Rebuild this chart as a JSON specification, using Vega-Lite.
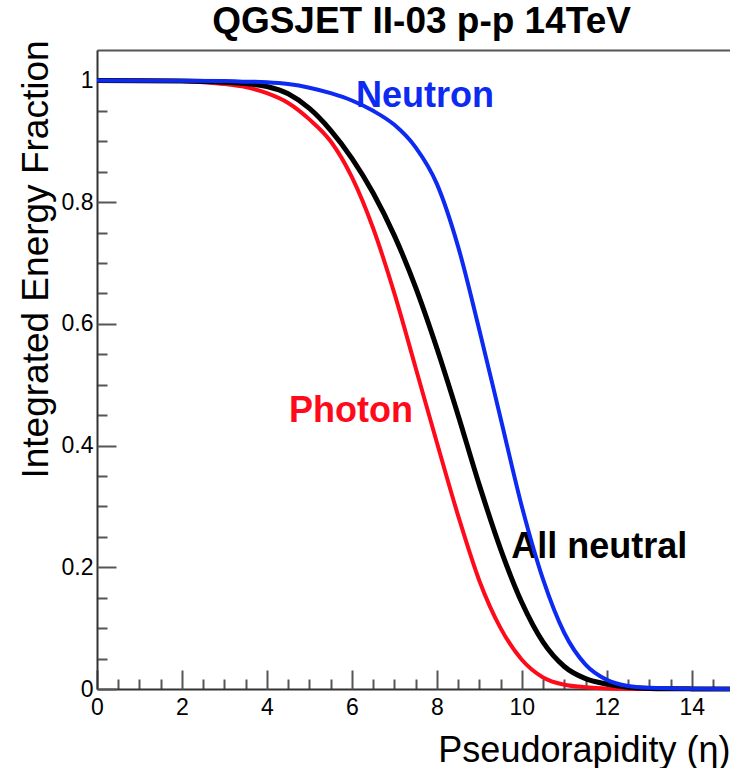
{
  "$schema": "https://vega.github.io/schema/vega-lite/v6.json",
  "width": 633,
  "height": 639,
  "autosize": {"type": "none"},
  "padding": {"left": 97, "top": 50, "right": 0, "bottom": 79},
  "background": "white",
  "title": {
    "text": "QGSJET II-03 p-p 14TeV",
    "font": "Liberation Sans",
    "fontSize": 37,
    "fontWeight": "bold",
    "color": "black",
    "anchor": "middle",
    "baseline": "alphabetic",
    "offset": -30,
    "dx": 8
  },
  "config": {
    "view": {"stroke": null},
    "font": "Liberation Sans",
    "axis": {"grid": false, "labelFlush": false, "labelOverlap": false}
  },
  "datasets": {
    "curves": [
      {"particle": "Photon", "eta": 0, "fraction": 1},
      {"particle": "Photon", "eta": 1, "fraction": 1},
      {"particle": "Photon", "eta": 2, "fraction": 0.999},
      {"particle": "Photon", "eta": 2.5, "fraction": 0.997},
      {"particle": "Photon", "eta": 3, "fraction": 0.994},
      {"particle": "Photon", "eta": 3.5, "fraction": 0.989},
      {"particle": "Photon", "eta": 4, "fraction": 0.979},
      {"particle": "Photon", "eta": 4.5, "fraction": 0.963},
      {"particle": "Photon", "eta": 5, "fraction": 0.936},
      {"particle": "Photon", "eta": 5.5, "fraction": 0.9},
      {"particle": "Photon", "eta": 6, "fraction": 0.841},
      {"particle": "Photon", "eta": 6.5, "fraction": 0.757},
      {"particle": "Photon", "eta": 7, "fraction": 0.65},
      {"particle": "Photon", "eta": 7.5, "fraction": 0.528},
      {"particle": "Photon", "eta": 8, "fraction": 0.405},
      {"particle": "Photon", "eta": 8.5, "fraction": 0.285},
      {"particle": "Photon", "eta": 9, "fraction": 0.178},
      {"particle": "Photon", "eta": 9.5, "fraction": 0.1},
      {"particle": "Photon", "eta": 10, "fraction": 0.048},
      {"particle": "Photon", "eta": 10.5, "fraction": 0.019},
      {"particle": "Photon", "eta": 11, "fraction": 0.007},
      {"particle": "Photon", "eta": 11.5, "fraction": 0.003},
      {"particle": "Photon", "eta": 12, "fraction": 0.001},
      {"particle": "Photon", "eta": 13, "fraction": 0.0002},
      {"particle": "Photon", "eta": 14, "fraction": 0},
      {"particle": "Photon", "eta": 14.9, "fraction": 0},
      {"particle": "All neutral", "eta": 0, "fraction": 1},
      {"particle": "All neutral", "eta": 2, "fraction": 0.999},
      {"particle": "All neutral", "eta": 3, "fraction": 0.997},
      {"particle": "All neutral", "eta": 3.5, "fraction": 0.995},
      {"particle": "All neutral", "eta": 4, "fraction": 0.99},
      {"particle": "All neutral", "eta": 4.5, "fraction": 0.978},
      {"particle": "All neutral", "eta": 5, "fraction": 0.954},
      {"particle": "All neutral", "eta": 5.5, "fraction": 0.918},
      {"particle": "All neutral", "eta": 6, "fraction": 0.872},
      {"particle": "All neutral", "eta": 6.5, "fraction": 0.815},
      {"particle": "All neutral", "eta": 7, "fraction": 0.745},
      {"particle": "All neutral", "eta": 7.5, "fraction": 0.66},
      {"particle": "All neutral", "eta": 8, "fraction": 0.56},
      {"particle": "All neutral", "eta": 8.5, "fraction": 0.45},
      {"particle": "All neutral", "eta": 9, "fraction": 0.335},
      {"particle": "All neutral", "eta": 9.5, "fraction": 0.23},
      {"particle": "All neutral", "eta": 10, "fraction": 0.142},
      {"particle": "All neutral", "eta": 10.5, "fraction": 0.077},
      {"particle": "All neutral", "eta": 11, "fraction": 0.037},
      {"particle": "All neutral", "eta": 11.5, "fraction": 0.017},
      {"particle": "All neutral", "eta": 12, "fraction": 0.008},
      {"particle": "All neutral", "eta": 12.5, "fraction": 0.003},
      {"particle": "All neutral", "eta": 13, "fraction": 0.001},
      {"particle": "All neutral", "eta": 14, "fraction": 0.0002},
      {"particle": "All neutral", "eta": 14.9, "fraction": 0},
      {"particle": "Neutron", "eta": 0, "fraction": 1},
      {"particle": "Neutron", "eta": 3, "fraction": 0.999},
      {"particle": "Neutron", "eta": 3.5, "fraction": 0.998},
      {"particle": "Neutron", "eta": 4, "fraction": 0.997},
      {"particle": "Neutron", "eta": 4.5, "fraction": 0.994},
      {"particle": "Neutron", "eta": 5, "fraction": 0.988},
      {"particle": "Neutron", "eta": 5.5, "fraction": 0.979},
      {"particle": "Neutron", "eta": 6, "fraction": 0.967},
      {"particle": "Neutron", "eta": 6.5, "fraction": 0.95},
      {"particle": "Neutron", "eta": 7, "fraction": 0.927},
      {"particle": "Neutron", "eta": 7.5, "fraction": 0.89},
      {"particle": "Neutron", "eta": 8, "fraction": 0.83},
      {"particle": "Neutron", "eta": 8.5, "fraction": 0.727},
      {"particle": "Neutron", "eta": 9, "fraction": 0.59},
      {"particle": "Neutron", "eta": 9.5, "fraction": 0.445},
      {"particle": "Neutron", "eta": 10, "fraction": 0.3},
      {"particle": "Neutron", "eta": 10.5, "fraction": 0.18},
      {"particle": "Neutron", "eta": 11, "fraction": 0.092},
      {"particle": "Neutron", "eta": 11.5, "fraction": 0.04},
      {"particle": "Neutron", "eta": 12, "fraction": 0.015},
      {"particle": "Neutron", "eta": 12.5, "fraction": 0.005},
      {"particle": "Neutron", "eta": 13, "fraction": 0.002},
      {"particle": "Neutron", "eta": 14, "fraction": 0.0004},
      {"particle": "Neutron", "eta": 14.9, "fraction": 0}
    ],
    "labels": [
      {"particle": "Neutron", "eta": 7.72, "fraction": 0.957},
      {"particle": "Photon", "eta": 5.98, "fraction": 0.439},
      {"particle": "All neutral", "eta": 11.82, "fraction": 0.215}
    ]
  },
  "resolve": {"axis": {"x": "independent", "y": "independent"}},
  "layer": [
    {
      "data": {"name": "labels"},
      "mark": {"type": "text", "font": "Liberation Sans", "fontSize": 36, "fontWeight": "bold", "align": "center", "baseline": "alphabetic"},
      "encoding": {
        "x": {
          "field": "eta", "type": "quantitative",
          "scale": {"domain": [0, 14.9], "nice": false, "zero": false},
          "axis": {
            "orient": "bottom",
            "values": [0.5, 1, 1.5, 2.5, 3, 3.5, 4.5, 5, 5.5, 6.5, 7, 7.5, 8.5, 9, 9.5, 10.5, 11, 11.5, 12.5, 13, 13.5, 14.5],
            "tickSize": -10, "tickWidth": 2, "tickColor": "#555555",
            "labels": false, "domain": false, "title": null
          }
        },
        "y": {
          "field": "fraction", "type": "quantitative",
          "scale": {"domain": [0, 1.05], "nice": false},
          "axis": {
            "orient": "left",
            "values": [0.05, 0.1, 0.15, 0.25, 0.3, 0.35, 0.45, 0.5, 0.55, 0.65, 0.7, 0.75, 0.85, 0.9, 0.95],
            "tickSize": -10, "tickWidth": 2, "tickColor": "#555555",
            "labels": false, "domain": false, "title": null
          }
        },
        "text": {"field": "particle", "type": "nominal"},
        "color": {
          "field": "particle", "type": "nominal",
          "scale": {"domain": ["Photon", "All neutral", "Neutron"], "range": ["#fe0a1a", "#000000", "#0c2af2"]},
          "legend": null
        }
      }
    },
    {
      "data": {"name": "curves"},
      "transform": [{"filter": "datum.particle === 'Photon'"}],
      "mark": {"type": "line", "color": "#fe0a1a", "strokeWidth": 4, "interpolate": "monotone"},
      "encoding": {
        "x": {
          "field": "eta", "type": "quantitative",
          "scale": {"domain": [0, 14.9], "nice": false, "zero": false},
          "axis": {
            "orient": "bottom",
            "values": [0, 2, 4, 6, 8, 10, 12, 14],
            "format": "~g",
            "ticks": false,
            "domainColor": "#333333", "domainWidth": 2,
            "labelFont": "Liberation Sans", "labelFontSize": 23, "labelColor": "black", "labelPadding": 7,
            "title": "Pseudorapidity (η)",
            "titleFont": "Liberation Sans", "titleFontSize": 36, "titleFontWeight": "normal", "titleColor": "black",
            "titleAlign": "right", "titleBaseline": "alphabetic", "titleX": 633, "titleY": 72
          }
        },
        "y": {
          "field": "fraction", "type": "quantitative",
          "scale": {"domain": [0, 1.05], "nice": false},
          "axis": {
            "orient": "left",
            "values": [0, 0.2, 0.4, 0.6, 0.8, 1],
            "format": "~g",
            "ticks": false,
            "domainColor": "#333333", "domainWidth": 2,
            "labelFont": "Liberation Sans", "labelFontSize": 23, "labelColor": "black", "labelPadding": 4,
            "title": "Integrated Energy Fraction",
            "titleFont": "Liberation Sans", "titleFontSize": 37, "titleFontWeight": "normal", "titleColor": "black",
            "titleAngle": 270, "titleAlign": "center", "titleBaseline": "alphabetic", "titleX": -50, "titleY": 209
          }
        }
      }
    },
    {
      "data": {"name": "curves"},
      "transform": [{"filter": "datum.particle === 'All neutral'"}],
      "mark": {"type": "line", "color": "#000000", "strokeWidth": 5, "interpolate": "monotone"},
      "encoding": {
        "x": {
          "field": "eta", "type": "quantitative",
          "scale": {"domain": [0, 14.9], "nice": false, "zero": false},
          "axis": {"orient": "top", "ticks": false, "labels": false, "title": null, "domainColor": "#555555", "domainWidth": 2}
        },
        "y": {
          "field": "fraction", "type": "quantitative",
          "scale": {"domain": [0, 1.05], "nice": false},
          "axis": {
            "orient": "left",
            "values": [0, 0.2, 0.4, 0.6, 0.8, 1],
            "tickSize": -19, "tickWidth": 2, "tickColor": "#555555",
            "labels": false, "domain": false, "title": null
          }
        }
      }
    },
    {
      "data": {"name": "curves"},
      "transform": [{"filter": "datum.particle === 'Neutron'"}],
      "mark": {"type": "line", "color": "#0c2af2", "strokeWidth": 4, "interpolate": "monotone"},
      "encoding": {
        "x": {
          "field": "eta", "type": "quantitative",
          "scale": {"domain": [0, 14.9], "nice": false, "zero": false},
          "axis": {
            "orient": "bottom",
            "values": [0, 2, 4, 6, 8, 10, 12, 14],
            "tickSize": -19, "tickWidth": 2, "tickColor": "#555555",
            "labels": false, "domain": false, "title": null
          }
        },
        "y": {"field": "fraction", "type": "quantitative", "scale": {"domain": [0, 1.05], "nice": false}, "axis": null}
      }
    }
  ]
}
